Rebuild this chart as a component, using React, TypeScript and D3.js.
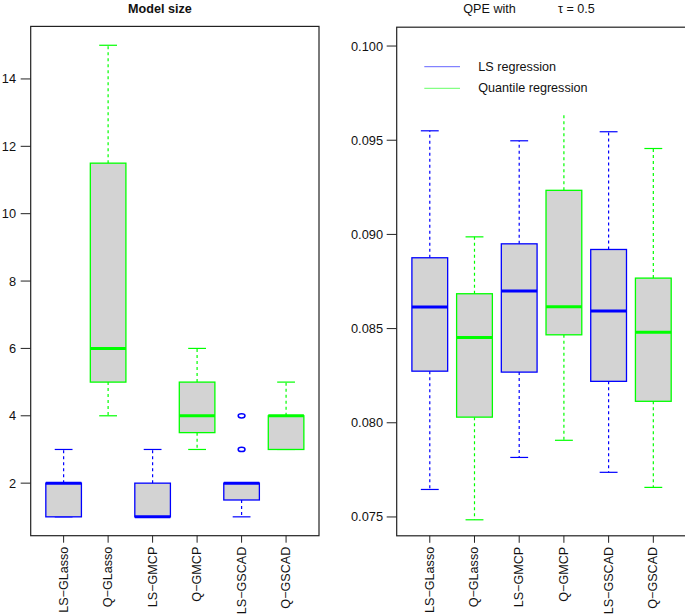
import React from "react";
import * as d3 from "d3";

const categories = ["LS−GLasso", "Q−GLasso", "LS−GMCP", "Q−GMCP", "LS−GSCAD", "Q−GSCAD"];
const methodType = ["LS", "Q", "LS", "Q", "LS", "Q"];

// Model size panel: [lowWhisker, q1, median, q3, highWhisker]
const sizeStats: number[][] = [
  [1, 1, 2, 2, 3],
  [4, 5, 6, 11.5, 15],
  [1, 1, 1, 2, 3],
  [3, 3.5, 4, 5, 6],
  [1, 1.5, 2, 2, 2],
  [3, 3, 4, 4, 5],
];
const sizeOutliers: number[][] = [[], [], [], [], [3, 4], []];
const sizeTicks = [2, 4, 6, 8, 10, 12, 14];

// QPE panel
const qpeStats: number[][] = [
  [0.07646, 0.08274, 0.08614, 0.08876, 0.09550],
  [0.07485, 0.08030, 0.08453, 0.08685, 0.08987],
  [0.07816, 0.08269, 0.08700, 0.08950, 0.09497],
  [0.07907, 0.08467, 0.08616, 0.09234, 0.09649],
  [0.07737, 0.08220, 0.08594, 0.08920, 0.09545],
  [0.07657, 0.08114, 0.08480, 0.08768, 0.09456],
];
const qpeUpperCap = [true, true, true, false, true, true];
const qpeTicks = [0.075, 0.08, 0.085, 0.09, 0.095, 0.1];

const legendLabels = ["LS regression", "Quantile regression"];

const COLORS: Record<string, string> = { LS: "#0000ff", Q: "#00ff00" };
const FONT = "'Liberation Sans', Arial, Helvetica, sans-serif";

type PanelProps = {
  x0: number;
  x1: number;
  y0: number;
  y1: number;
  domain: [number, number];
  stats: number[][];
  outliers?: number[][];
  upperCap?: boolean[];
  ticks: number[];
  fmt: (v: number) => string;
  labelX: number;
  clipRight?: boolean;
};

function Panel(p: PanelProps) {
  const x = d3.scaleLinear().domain([0.26, 6.74]).range([p.x0, p.x1]);
  const y = d3.scaleLinear().domain(p.domain).range([p.y1, p.y0]);
  const bw = x(1.4) - x(1);
  const cw = x(1.2) - x(1);
  return (
    <g>
      {p.stats.map((s, i) => {
        const cx = x(i + 1);
        const col = COLORS[methodType[i]];
        const [lo, q1, med, q3, hi] = s;
        return (
          <g key={i}>
            {/* whiskers */}
            {hi > q3 && (
              <line x1={cx} x2={cx} y1={y(q3)} y2={y(hi)} stroke={col} strokeWidth={1.2} strokeDasharray="3,3" />
            )}
            {lo < q1 && (
              <line x1={cx} x2={cx} y1={y(q1)} y2={y(lo)} stroke={col} strokeWidth={1.2} strokeDasharray="3,3" />
            )}
            {(p.upperCap ? p.upperCap[i] : true) && hi > q3 && (
              <line x1={cx - cw} x2={cx + cw} y1={y(hi)} y2={y(hi)} stroke={col} strokeWidth={1.2} />
            )}
            <line x1={cx - cw} x2={cx + cw} y1={y(lo)} y2={y(lo)} stroke={col} strokeWidth={1.2} />
            <rect
              x={cx - bw}
              y={y(q3)}
              width={2 * bw}
              height={y(q1) - y(q3)}
              fill="#d3d3d3"
              stroke={col}
              strokeWidth={1.3}
            />
            <line x1={cx - bw} x2={cx + bw} y1={y(med)} y2={y(med)} stroke={col} strokeWidth={3} />
            {(p.outliers ? p.outliers[i] : []).map((o, j) => (
              <ellipse key={j} cx={cx} cy={y(o)} rx={3.4} ry={2.1} fill="none" stroke={col} strokeWidth={1.5} />
            ))}
          </g>
        );
      })}
      {/* frame */}
      <rect
        x={p.x0}
        y={p.y0}
        width={p.x1 - p.x0}
        height={p.y1 - p.y0}
        fill="none"
        stroke="#222"
        strokeWidth={1.2}
      />
      {/* y ticks */}
      {p.ticks.map((t, i) => (
        <g key={i}>
          <line x1={p.x0 - 10} x2={p.x0} y1={y(t)} y2={y(t)} stroke="#222" strokeWidth={1} />
          <text
            x={p.labelX}
            y={y(t)}
            textAnchor="end"
            dominantBaseline="central"
            fontSize={12.8}
            fontFamily={FONT}
            fill="#111"
          >
            {p.fmt(t)}
          </text>
        </g>
      ))}
      {/* x ticks */}
      {categories.map((c, i) => (
        <g key={c}>
          <line x1={x(i + 1)} x2={x(i + 1)} y1={p.y1} y2={p.y1 + 7} stroke="#222" strokeWidth={1} />
          <text
            transform={`translate(${x(i + 1)},${p.y1 + 11}) rotate(-90)`}
            textAnchor="end"
            dominantBaseline="central"
            fontSize={12.6}
            fontFamily={FONT}
            fill="#111"
          >
            {c}
          </text>
        </g>
      ))}
    </g>
  );
}

export default function App() {
  return (
    <svg
      width={685}
      height={615}
      style={{ position: "absolute", left: 0, top: 0, background: "#fff" }}
    >
      <rect x={0} y={0} width={685} height={615} fill="#fff" />
      <text x={128} y={13.3} fontSize={12.6} fontWeight="bold" fontFamily={FONT} fill="#111">
        Model size
      </text>
      <Panel
        x0={30.7}
        x1={319}
        y0={26.4}
        y1={535.7}
        domain={[0.44, 15.56]}
        stats={sizeStats}
        outliers={sizeOutliers}
        ticks={sizeTicks}
        fmt={(v) => String(v)}
        labelX={16}
      />
      <text x={463.3} y={13.3} fontSize={12.6} fontFamily={FONT} fill="#111">
        QPE with
      </text>
      <text x={558} y={13.3} fontSize={12.6} fontFamily={FONT} fill="#111">
        τ = 0.5
      </text>
      <Panel
        x0={396.7}
        x1={686.4}
        y0={27.2}
        y1={535.8}
        domain={[0.074, 0.101]}
        stats={qpeStats}
        upperCap={qpeUpperCap}
        ticks={qpeTicks}
        fmt={d3.format(".3f")}
        labelX={383}
      />
      {legendLabels.map((l, i) => (
        <g key={l}>
          <line
            x1={424.3}
            x2={460}
            y1={66.7 + i * 21.6}
            y2={66.7 + i * 21.6}
            stroke={i === 0 ? "#0000ff" : "#00ff00"}
            strokeWidth={1}
            opacity={0.6}
          />
          <text
            x={478.3}
            y={66.7 + i * 21.6}
            dominantBaseline="central"
            fontSize={12.6}
            fontFamily={FONT}
            fill="#111"
          >
            {l}
          </text>
        </g>
      ))}
    </svg>
  );
}
